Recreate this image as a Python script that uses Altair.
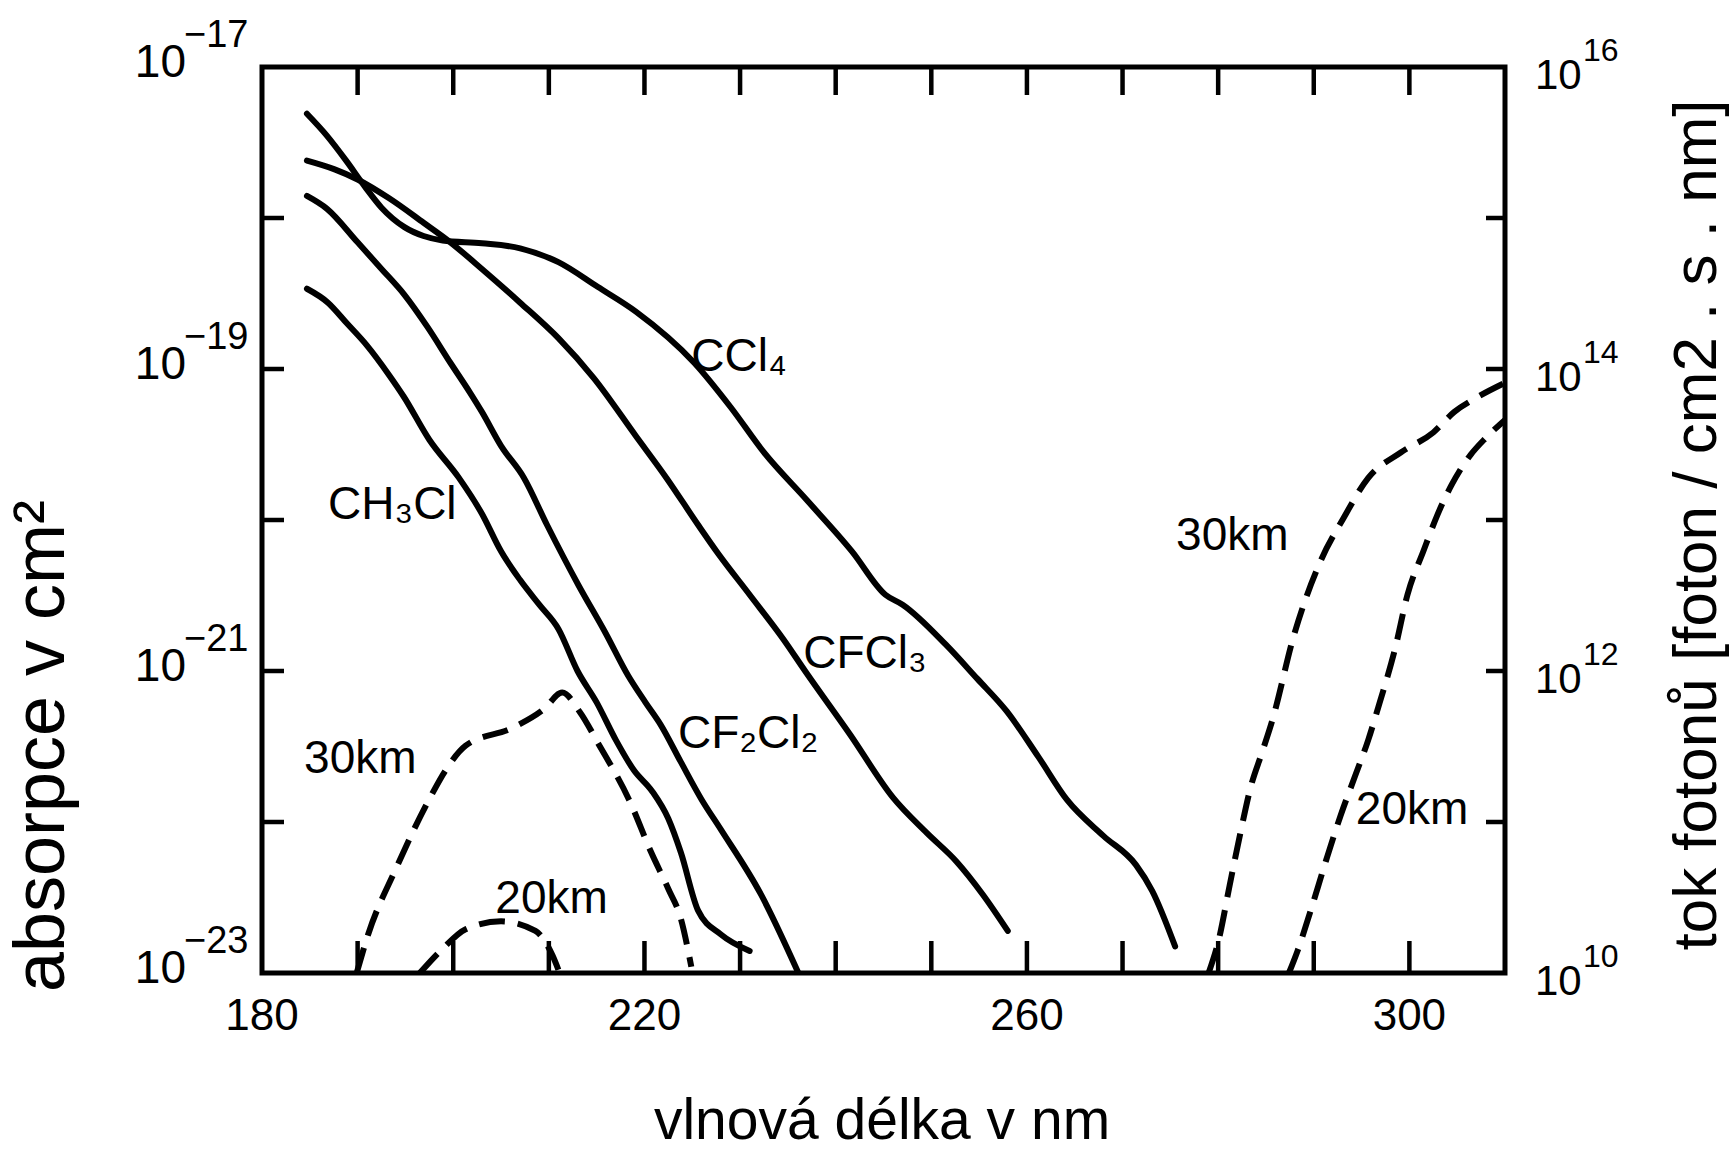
import altair as alt
import pandas as pd

NUM = "Liberation Sans, Arial, sans-serif"
SANS = "Liberation Sans, Arial, sans-serif"

W, H = 1243, 906

# ---------------- absorption cross sections [cm^2] ----------------
ccl4_nm = [184.7, 186.8, 188.8, 190.8, 192.5, 194.9, 196.9, 198.9, 203.0, 207.0, 211.0, 215.1,
           219.1, 225.2, 229.0, 232.5, 237.0, 241.7, 245.2, 247.0, 251.5, 254.8, 257.9,
           261.2, 264.2, 268.0, 271.4, 273.1, 275.5]
ccl4_abs = [4.9e-18, 3.5e-18, 2.4e-18, 1.6e-18, 1.17e-18, 8.7e-19, 7.6e-19, 7.1e-19, 6.8e-19,
            6.3e-19, 5.1e-19, 3.5e-19, 2.4e-19, 1.1e-19, 5.6e-20, 2.8e-20, 1.35e-20, 6.2e-21,
            3.2e-21, 2.75e-21, 1.5e-21, 8.9e-22, 5.4e-22, 2.7e-22, 1.4e-22, 8.1e-23, 5.2e-23,
            3.5e-23, 1.5e-23]

cfcl3_nm = [184.7, 187.6, 190.0, 193.3, 196.9, 199.7, 203.0, 207.0, 211.0, 214.7, 219.1,
            222.3, 225.6, 227.7, 231.0, 234.6, 236.8, 241.5, 246.0, 249.5, 252.6, 255.4, 258.0]
cfcl3_abs = [2.4e-18, 2.1e-18, 1.8e-18, 1.35e-18, 9.3e-19, 6.9e-19, 4.6e-19, 2.75e-19, 1.6e-19,
             8.7e-20, 3.6e-20, 1.9e-20, 9.3e-21, 6.0e-21, 3.2e-21, 1.6e-21, 1.0e-21, 3.8e-22,
             1.45e-22, 8.5e-23, 5.5e-23, 3.3e-23, 1.9e-23]

cf2cl2_nm = [184.7, 186.8, 190.0, 192.5, 194.9, 197.3, 199.7, 201.8, 203.0, 205.0, 207.4,
             209.8, 213.1, 215.9, 218.3, 220.1, 221.7, 223.8, 226.0, 228.0, 232.2, 236.1]
cf2cl2_abs = [1.4e-18, 1.15e-18, 6.9e-19, 4.6e-19, 3.1e-19, 1.9e-19, 1.1e-19, 6.9e-20, 5.2e-20,
              3.1e-20, 1.9e-20, 9.3e-21, 3.7e-21, 1.8e-21, 9.3e-22, 6.2e-22, 4.4e-22, 2.5e-22,
              1.4e-22, 8.9e-23, 3.3e-23, 1.0e-23]

ch3cl_nm = [184.7, 186.9, 188.9, 190.9, 193.3, 194.8, 197.5, 200.6, 203.0, 205.0, 207.0,
            209.0, 211.0, 213.0, 215.0, 217.0, 218.9, 220.8, 222.5, 223.8, 225.6, 228.0, 231.0]
ch3cl_abs = [3.4e-19, 2.75e-19, 2.0e-19, 1.45e-19, 9.1e-20, 6.6e-20, 3.4e-20, 1.9e-20, 1.1e-20,
             6.2e-21, 4.0e-21, 2.75e-21, 1.9e-21, 1.0e-21, 6.2e-22, 3.5e-22, 2.2e-22, 1.6e-22,
             1.05e-22, 6.3e-23, 2.6e-23, 1.8e-23, 1.4e-23]

# ---------------- photon flux [foton / cm2 . s . nm] ----------------
f30a_nm = [189.9, 191.1, 194.0, 197.7, 199.2, 201.3, 206.2, 209.5, 211.4, 213.2, 215.3,
           218.4, 220.7, 222.5, 223.8, 224.9]
f30a = [1.0e10, 1.8e10, 4.9e10, 1.5e11, 2.2e11, 3.2e11, 4.2e11, 5.6e11, 7.2e11, 5.4e11,
        3.2e11, 1.4e11, 6.3e10, 3.6e10, 2.3e10, 1.1e10]

f20a_nm = [196.5, 198.9, 201.3, 205.0, 208.6, 210.4, 211.0]
f20a = [1.0e10, 1.45e10, 1.95e10, 2.2e10, 1.9e10, 1.3e10, 1.05e10]

f30b_nm = [279.0, 280.1, 281.2, 282.4, 283.4, 284.6, 285.7, 287.9, 290.8, 293.0, 295.7,
           299.1, 302.5, 304.7, 307.1, 310.0]
f30b = [1.0e10, 1.7e10, 3.8e10, 8.9e10, 1.7e11, 2.9e11, 4.8e11, 1.7e12, 5.5e12, 1.0e13,
        1.9e13, 2.8e13, 3.8e13, 5.2e13, 6.5e13, 8.1e13]

f20b_nm = [287.4, 288.3, 289.6, 291.3, 292.8, 294.3, 295.7, 296.9, 298.5, 299.8, 301.5,
           302.9, 304.4, 306.4, 308.0, 310.0]
f20b = [1.0e10, 1.4e10, 2.5e10, 5.6e10, 1.1e11, 2.0e11, 3.5e11, 6.2e11, 1.4e12, 3.2e12,
        6.3e12, 1.07e13, 1.7e13, 2.7e13, 3.5e13, 4.6e13]

# ---------------- labels ----------------
abs_label_text = ["CCl₄", "CH₃Cl", "CFCl₃", "CF₂Cl₂"]
abs_label_nm = [224.9, 186.9, 236.6, 223.5]
abs_label_v = [1.2e-19, 1.26e-20, 1.3e-21, 3.8e-22]

flux_label_text = ["30km", "20km", "30km", "20km"]
flux_label_nm = [184.4, 204.4, 275.6, 294.4]
flux_label_v = [2.6e11, 3.1e10, 7.8e12, 1.2e11]

x_ticks = [190, 200, 210, 220, 230, 240, 250, 260, 270, 280, 290, 300]
x_labels = [180, 220, 260, 300]
left_ticks = [1e-22, 1e-21, 1e-20, 1e-19, 1e-18]
left_label_v = [1e-17, 1e-19, 1e-21, 1e-23]
left_label_exp = ["−17", "−19", "−21", "−23"]
right_ticks = [1e11, 1e12, 1e13, 1e14, 1e15]
right_label_v = [1e16, 1e14, 1e12, 1e10]
right_label_exp = ["16", "14", "12", "10"]

x_title = "vlnová délka v nm"
left_title = "absorpce v cm²"
right_title = "tok fotonů [foton / cm2 . s . nm]"

# ---------------- tables ----------------
def sdf(name, nm, vals):
    return pd.DataFrame({"nm": nm, "v": vals, "series": name})

absorb = pd.concat([sdf("CCl4", ccl4_nm, ccl4_abs), sdf("CFCl3", cfcl3_nm, cfcl3_abs),
                    sdf("CF2Cl2", cf2cl2_nm, cf2cl2_abs), sdf("CH3Cl", ch3cl_nm, ch3cl_abs)])
flux = pd.concat([sdf("30a", f30a_nm, f30a), sdf("20a", f20a_nm, f20a),
                  sdf("30b", f30b_nm, f30b), sdf("20b", f20b_nm, f20b)])

xs = alt.Scale(domain=[180, 310], nice=False, zero=False)
ya = alt.Scale(type="log", domain=[1e-23, 1e-17], nice=False)
yf = alt.Scale(type="log", domain=[1e10, 1e16], nice=False)

X = alt.X("nm:Q", scale=xs, axis=None)

abs_lines = alt.Chart(absorb).mark_line(
    color="black", strokeWidth=6, interpolate="monotone", clip=True, strokeCap="round"
).encode(x=X, y=alt.Y("v:Q", scale=ya, axis=None), detail="series:N")

flux_lines = alt.Chart(flux).mark_line(
    color="black", strokeWidth=6, strokeDash=[26, 13], interpolate="monotone", clip=True
).encode(x=X, y=alt.Y("v:Q", scale=yf, axis=None), detail="series:N")

abs_labels = alt.Chart(pd.DataFrame({"nm": abs_label_nm, "v": abs_label_v, "t": abs_label_text})).mark_text(
    align="left", baseline="middle", font=SANS, fontSize=46, color="black"
).encode(x=X, y=alt.Y("v:Q", scale=ya, axis=None), text="t:N")

flux_labels = alt.Chart(pd.DataFrame({"nm": flux_label_nm, "v": flux_label_v, "t": flux_label_text})).mark_text(
    align="left", baseline="middle", font=SANS, fontSize=46, color="black"
).encode(x=X, y=alt.Y("v:Q", scale=yf, axis=None), text="t:N")

# ticks (pointing inward)
tick_style = dict(color="black", strokeWidth=4.5)
bottom_ticks = alt.Chart(pd.DataFrame({"nm": x_ticks})).mark_rule(**tick_style).encode(
    x=X, y=alt.value(H), y2=alt.value(H - 32))
top_ticks = alt.Chart(pd.DataFrame({"nm": x_ticks})).mark_rule(**tick_style).encode(
    x=X, y=alt.value(0), y2=alt.value(28))
left_tk = alt.Chart(pd.DataFrame({"v": left_ticks})).mark_rule(**tick_style).encode(
    y=alt.Y("v:Q", scale=ya, axis=None), x=alt.value(0), x2=alt.value(22))
right_tk = alt.Chart(pd.DataFrame({"v": right_ticks})).mark_rule(**tick_style).encode(
    y=alt.Y("v:Q", scale=yf, axis=None), x=alt.value(W), x2=alt.value(W - 19))

# tick labels
xlab = alt.Chart(pd.DataFrame({"nm": x_labels, "t": [str(v) for v in x_labels]})).mark_text(
    align="center", baseline="middle", font=NUM, fontSize=44, color="black"
).encode(x=X, y=alt.value(H + 44), text="t:N")

ldf = pd.DataFrame({"v": left_label_v, "b": ["10"] * 4, "e": left_label_exp})
left_base = alt.Chart(ldf).mark_text(
    align="right", baseline="middle", font=NUM, fontSize=46, color="black", dy=-4
).encode(y=alt.Y("v:Q", scale=ya, axis=None), x=alt.value(-76), text="b:N")
left_exp = alt.Chart(ldf).mark_text(
    align="left", baseline="alphabetic", font=NUM, fontSize=38, color="black", dy=-20
).encode(y=alt.Y("v:Q", scale=ya, axis=None), x=alt.value(-78), text="e:N")

rdf = pd.DataFrame({"v": right_label_v, "b": ["10"] * 4, "e": right_label_exp})
right_base = alt.Chart(rdf).mark_text(
    align="left", baseline="middle", font=NUM, fontSize=42, color="black", dy=9
).encode(y=alt.Y("v:Q", scale=yf, axis=None), x=alt.value(W + 30), text="b:N")
right_exp = alt.Chart(rdf).mark_text(
    align="left", baseline="alphabetic", font=NUM, fontSize=32, color="black", dy=-6
).encode(y=alt.Y("v:Q", scale=yf, axis=None), x=alt.value(W + 78), text="e:N")

# axis titles
xt = alt.Chart(pd.DataFrame({"t": [x_title]})).mark_text(
    align="center", baseline="alphabetic", font=SANS, fontSize=57, color="black"
).encode(x=alt.value(620), y=alt.value(H + 166), text="t:N")
lt = alt.Chart(pd.DataFrame({"t": [left_title]})).mark_text(
    align="center", baseline="alphabetic", font=SANS, fontSize=72, color="black", angle=270
).encode(x=alt.value(-198), y=alt.value(679), text="t:N")
rt = alt.Chart(pd.DataFrame({"t": [right_title]})).mark_text(
    align="center", baseline="alphabetic", font=SANS, fontSize=62, color="black", angle=270
).encode(x=alt.value(1454), y=alt.value(458), text="t:N")

chart = alt.layer(
    abs_lines, flux_lines, abs_labels, flux_labels,
    bottom_ticks, top_ticks, left_tk, right_tk,
    xlab, left_base, left_exp, right_base, right_exp,
    xt, lt, rt,
).resolve_scale(y="independent").properties(
    width=W, height=H,
    padding={"left": 262, "top": 67, "right": 228, "bottom": 179},
    autosize=alt.AutoSizeParams(type="none"),
    background="white",
).configure_view(stroke="black", strokeWidth=5)

chart.save("out.html", embed_options={"renderer": "svg", "actions": False})
